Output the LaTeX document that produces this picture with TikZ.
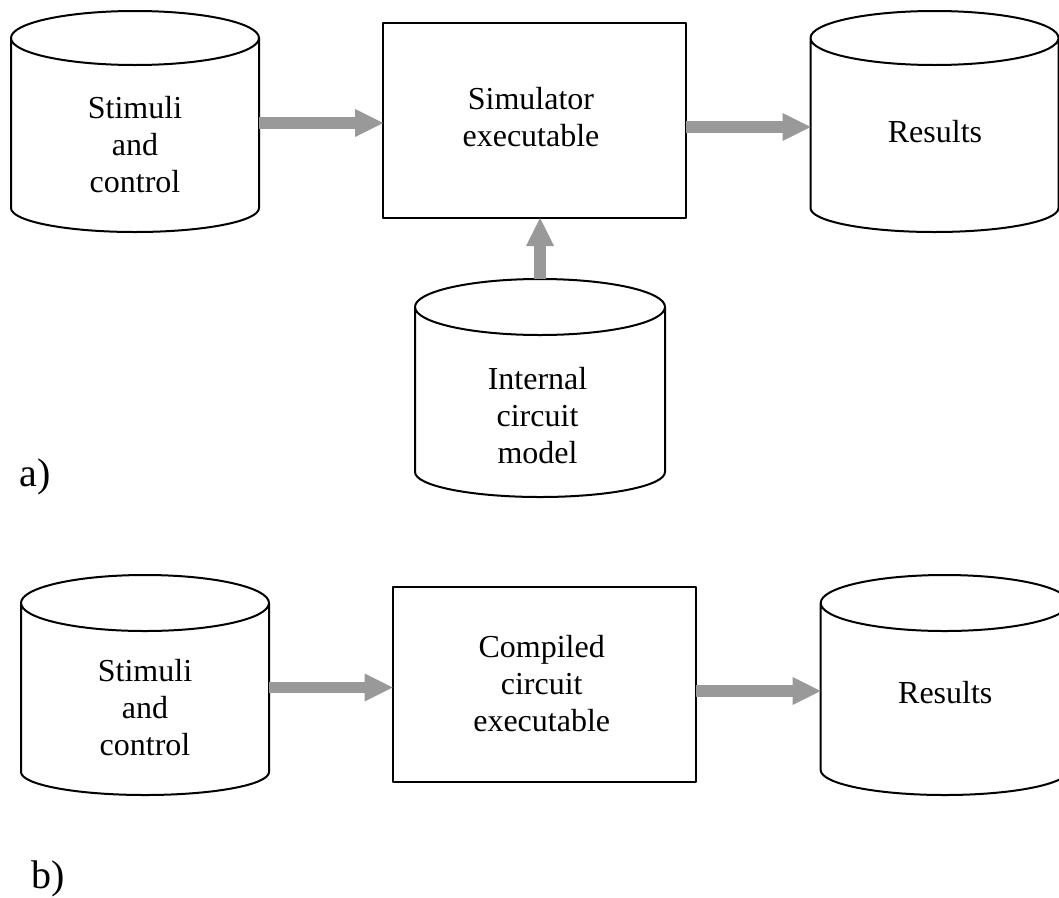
\documentclass[tikz,border=0pt]{standalone}
\usepackage{fontspec}
\setmainfont{Liberation Serif}
\usetikzlibrary{arrows.meta,calc}
\definecolor{flowgray}{RGB}{153,153,153}

% Outline of a storage drum around a body node: lid ellipse on top,
% straight sides and a half ellipse as the base.
\newcommand\drumoutline[3]{%
  \draw[outline] let \p1=($(#1.east)-(#1.west)$) in
    (#1.north) ellipse [x radius=0.5*\x1, y radius=#2pt]
    (#1.north west) -- (#1.south west)
      arc [start angle=180, end angle=360, x radius=0.5*\x1, y radius=#3pt]
      -- (#1.north east);
}

\begin{document}
\begin{tikzpicture}[x=1pt,y=1pt,
  outline/.style={draw=black, line width=2pt, line join=round},
  drumbody/.style={inner sep=0pt, outer sep=0pt, minimum width=248pt},
  procbox/.style={outline, fill=white, inner sep=0pt, outer sep=0pt},
  txt/.style={align=center, inner sep=0pt, font=\fontsize{32}{37}\selectfont},
  tag/.style={inner sep=0pt, font=\fontsize{40}{46}\selectfont},
  flow/.style={draw=flowgray, line width=11.5pt,
    -{Triangle[length=28pt,width=28pt,line width=0pt]}}]

\useasboundingbox (0,0) rectangle (1059,-897);
\fill[white] (0,0) rectangle (1059,-897);
\clip (0,0) rectangle (1059,-897);

% ---------- a) interpreted simulation ----------
\node[drumbody, minimum height=170pt] (st1) at (135,-123) {};
\drumoutline{st1}{27}{24}
\node[txt] (st1-t) at (135,-145) {Stimuli\\and\\control};

\node[procbox, minimum width=303pt, minimum height=195pt] (sim) at (534.5,-120.5) {};
\node[txt] (sim-t) at (531,-117.5) {Simulator\\executable};

\node[drumbody, minimum height=170pt] (res1) at (934.5,-123) {};
\drumoutline{res1}{27}{24}
\node[txt] (res1-t) at (935,-132) {Results};

\node[drumbody, minimum width=250pt, minimum height=165pt] (icm) at (540,-389.5) {};
\drumoutline{icm}{28}{25}
\node[txt] (icm-t) at (537.5,-416) {Internal\\circuit\\model};

\draw[flow] (st1.east) -- (st1.east -| sim.west);
\coordinate (simout) at ($(sim.east)+(0,-6.5)$);
\draw[flow] (simout) -- (simout -| res1.west);
\coordinate (icmlid) at ($(icm.north)+(0,28)$);
\draw[flow] (icmlid) -- (icmlid |- sim.south);

\node[tag, anchor=base west] (tag-a) at (19.5,-486.7) {a)};

% ---------- b) compiled simulation ----------
\node[drumbody, minimum height=169pt] (st2) at (145,-687.5) {};
\drumoutline{st2}{28}{23}
\node[txt] (st2-t) at (145,-707.7) {Stimuli\\and\\control};

\node[procbox, minimum width=303.3pt, minimum height=194.4pt] (cce) at (544.3,-684.5) {};
\node[txt] (cce-t) at (541.7,-684) {Compiled\\circuit\\executable};

\node[drumbody, minimum height=167pt] (res2) at (944.7,-686.5) {};
\drumoutline{res2}{28}{25}
\node[txt] (res2-t) at (945.3,-692.3) {Results};

\draw[flow] (st2.east) -- (st2.east -| cce.west);
\coordinate (cceout) at ($(cce.east)+(0,-6.5)$);
\draw[flow] (cceout) -- (cceout -| res2.west);

\node[tag, anchor=base west] (tag-b) at (31,-888.3) {b)};
\end{tikzpicture}
\end{document}
